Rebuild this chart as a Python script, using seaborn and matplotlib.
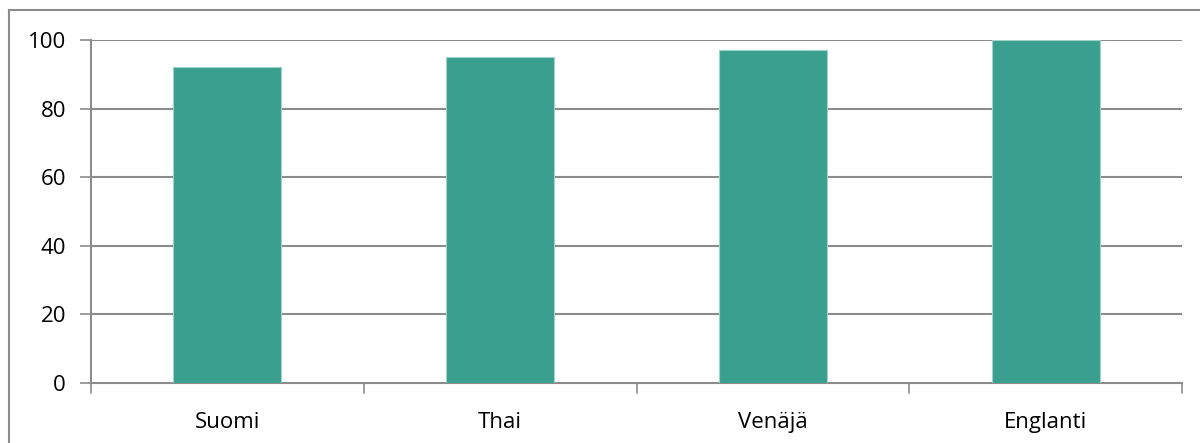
import matplotlib
matplotlib.use("Agg")
import matplotlib.pyplot as plt
import seaborn as sns
import pandas as pd
from matplotlib.patches import Rectangle

categories = ["Suomi", "Thai", "Venäjä", "Englanti"]
values = [92, 95, 97, 100]
yticks = [0, 20, 40, 60, 80, 100]

sns.set_theme(style="white")
plt.rcParams['font.family'] = ['Open Sans', 'DejaVu Sans']

W, H = 1200, 443
fig = plt.figure(figsize=(W / 100, H / 100), dpi=100)
ax = fig.add_axes([91 / W, 1 - 383 / H, (1182 - 91) / W, (383 - 40) / H])

df = pd.DataFrame({"cat": categories, "val": values})
sns.barplot(data=df, x="cat", y="val", color="#3A9F8F", saturation=1,
            width=0.396, ax=ax, zorder=3, edgecolor="#9FD3CA", linewidth=0.8)

grid_c = "#8C8C8C"
ax.set_ylim(0, 100)
ax.set_xlim(-0.5, len(categories) - 0.5)
ax.set_yticks(yticks)
ax.set_yticklabels([str(t) for t in yticks], fontsize=16, color="black")
for t in yticks[1:]:
    ax.axhline(t, color=grid_c, lw=1.5, zorder=1)

ax.set_xticks(range(len(categories)))
ax.set_xticklabels(categories, fontsize=16, color="black")
ax.tick_params(axis="x", length=0, pad=21)
ax.tick_params(axis="y", length=8, width=1.2, color=grid_c, left=True, pad=10)
# category boundary ticks
for b in range(len(categories) + 1):
    ax.plot([b - 0.5, b - 0.5], [0, -0.029 * 100], color=grid_c, lw=1.2,
            clip_on=False, zorder=2)

for s in ["top", "right"]:
    ax.spines[s].set_visible(False)
for s in ["left", "bottom"]:
    ax.spines[s].set_color(grid_c)
    ax.spines[s].set_linewidth(1.5)
ax.set_xlabel("")
ax.set_ylabel("")

# outer chart frame (clipped on right and bottom)
fig.patches.append(Rectangle((9 / W, -0.1), 1.2, 1 - 10 / H + 0.1,
                             transform=fig.transFigure, fill=False,
                             edgecolor=grid_c, lw=1.5))

fig.savefig("out.png", dpi=100)
